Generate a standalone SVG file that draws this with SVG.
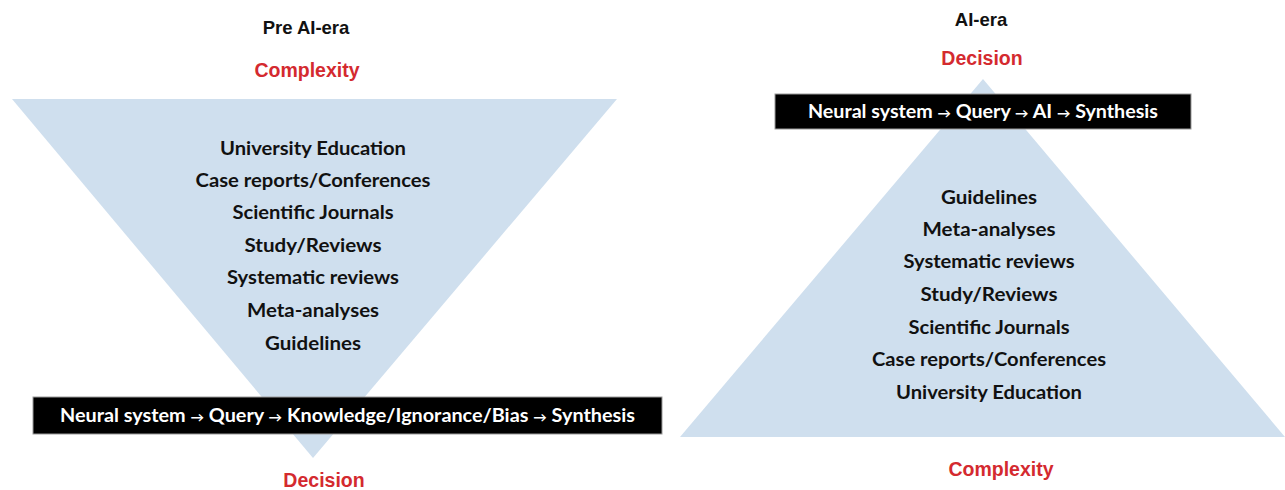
<svg xmlns="http://www.w3.org/2000/svg" width="1285" height="490" viewBox="0 0 1285 490">
<style>
.tri{fill:#CFDFEE;}
.bar{fill:#000;stroke:#9a9a9a;stroke-width:1;}
.era{font-family:"Liberation Sans",Arial,sans-serif;font-weight:bold;font-size:18.5px;fill:#111;text-anchor:middle;}
.red{font-family:"Liberation Sans",Arial,sans-serif;font-weight:bold;font-size:19.5px;fill:#D42A2F;text-anchor:middle;}
.item{font-family:Lato,"Open Sans","DejaVu Sans",sans-serif;font-weight:bold;font-size:19px;fill:#111;text-anchor:middle;}
.bt{font-family:Lato,"Open Sans","DejaVu Sans",sans-serif;font-weight:bold;font-size:19px;fill:#fff;text-anchor:middle;}
.ar{font-size:13px;}
</style>
<rect width="1285" height="490" fill="#fff"/>
<g id="pre-ai">
  <g id="pre-title"><text class="era" x="306" y="34">Pre AI-era</text></g>
  <g id="pre-complexity"><text class="red" x="307" y="77">Complexity</text></g>
  <g id="pre-triangle">
    <polygon class="tri" points="12,99 617,99 313,458"/>
    <text class="item" x="313" y="155" textLength="186" lengthAdjust="spacingAndGlyphs">University Education</text>
    <text class="item" x="313" y="187" textLength="235" lengthAdjust="spacingAndGlyphs">Case reports/Conferences</text>
    <text class="item" x="313" y="219" textLength="161" lengthAdjust="spacingAndGlyphs">Scientific Journals</text>
    <text class="item" x="313" y="252" textLength="137" lengthAdjust="spacingAndGlyphs">Study/Reviews</text>
    <text class="item" x="313" y="284" textLength="172" lengthAdjust="spacingAndGlyphs">Systematic reviews</text>
    <text class="item" x="313" y="317" textLength="132" lengthAdjust="spacingAndGlyphs">Meta-analyses</text>
    <text class="item" x="313" y="350" textLength="96" lengthAdjust="spacingAndGlyphs">Guidelines</text>
  </g>
  <g id="pre-bar">
    <rect class="bar" x="33" y="397" width="629" height="37"/>
    <text class="bt" x="347.5" y="422" textLength="575" lengthAdjust="spacingAndGlyphs">Neural system <tspan class="ar">→</tspan> Query <tspan class="ar">→</tspan> Knowledge/Ignorance/Bias <tspan class="ar">→</tspan> Synthesis</text>
  </g>
  <g id="pre-decision"><text class="red" x="324" y="487">Decision</text></g>
</g>
<g id="ai">
  <g id="ai-title"><text class="era" x="981" y="26">AI-era</text></g>
  <g id="ai-decision"><text class="red" x="982" y="65">Decision</text></g>
  <g id="ai-triangle">
    <polygon class="tri" points="983,79 1285,437 680,437"/>
    <text class="item" x="989" y="204" textLength="96" lengthAdjust="spacingAndGlyphs">Guidelines</text>
    <text class="item" x="989" y="236" textLength="133" lengthAdjust="spacingAndGlyphs">Meta-analyses</text>
    <text class="item" x="989" y="268" textLength="171" lengthAdjust="spacingAndGlyphs">Systematic reviews</text>
    <text class="item" x="989" y="301" textLength="137" lengthAdjust="spacingAndGlyphs">Study/Reviews</text>
    <text class="item" x="989" y="334" textLength="161" lengthAdjust="spacingAndGlyphs">Scientific Journals</text>
    <text class="item" x="989" y="366" textLength="234" lengthAdjust="spacingAndGlyphs">Case reports/Conferences</text>
    <text class="item" x="989" y="399" textLength="186" lengthAdjust="spacingAndGlyphs">University Education</text>
  </g>
  <g id="ai-bar">
    <rect class="bar" x="775" y="94" width="416" height="35"/>
    <text class="bt" x="983" y="118" textLength="350" lengthAdjust="spacingAndGlyphs">Neural system <tspan class="ar">→</tspan> Query <tspan class="ar">→</tspan> AI <tspan class="ar">→</tspan> Synthesis</text>
  </g>
  <g id="ai-complexity"><text class="red" x="1001" y="476">Complexity</text></g>
</g>
<g id="connectors"></g>
</svg>
